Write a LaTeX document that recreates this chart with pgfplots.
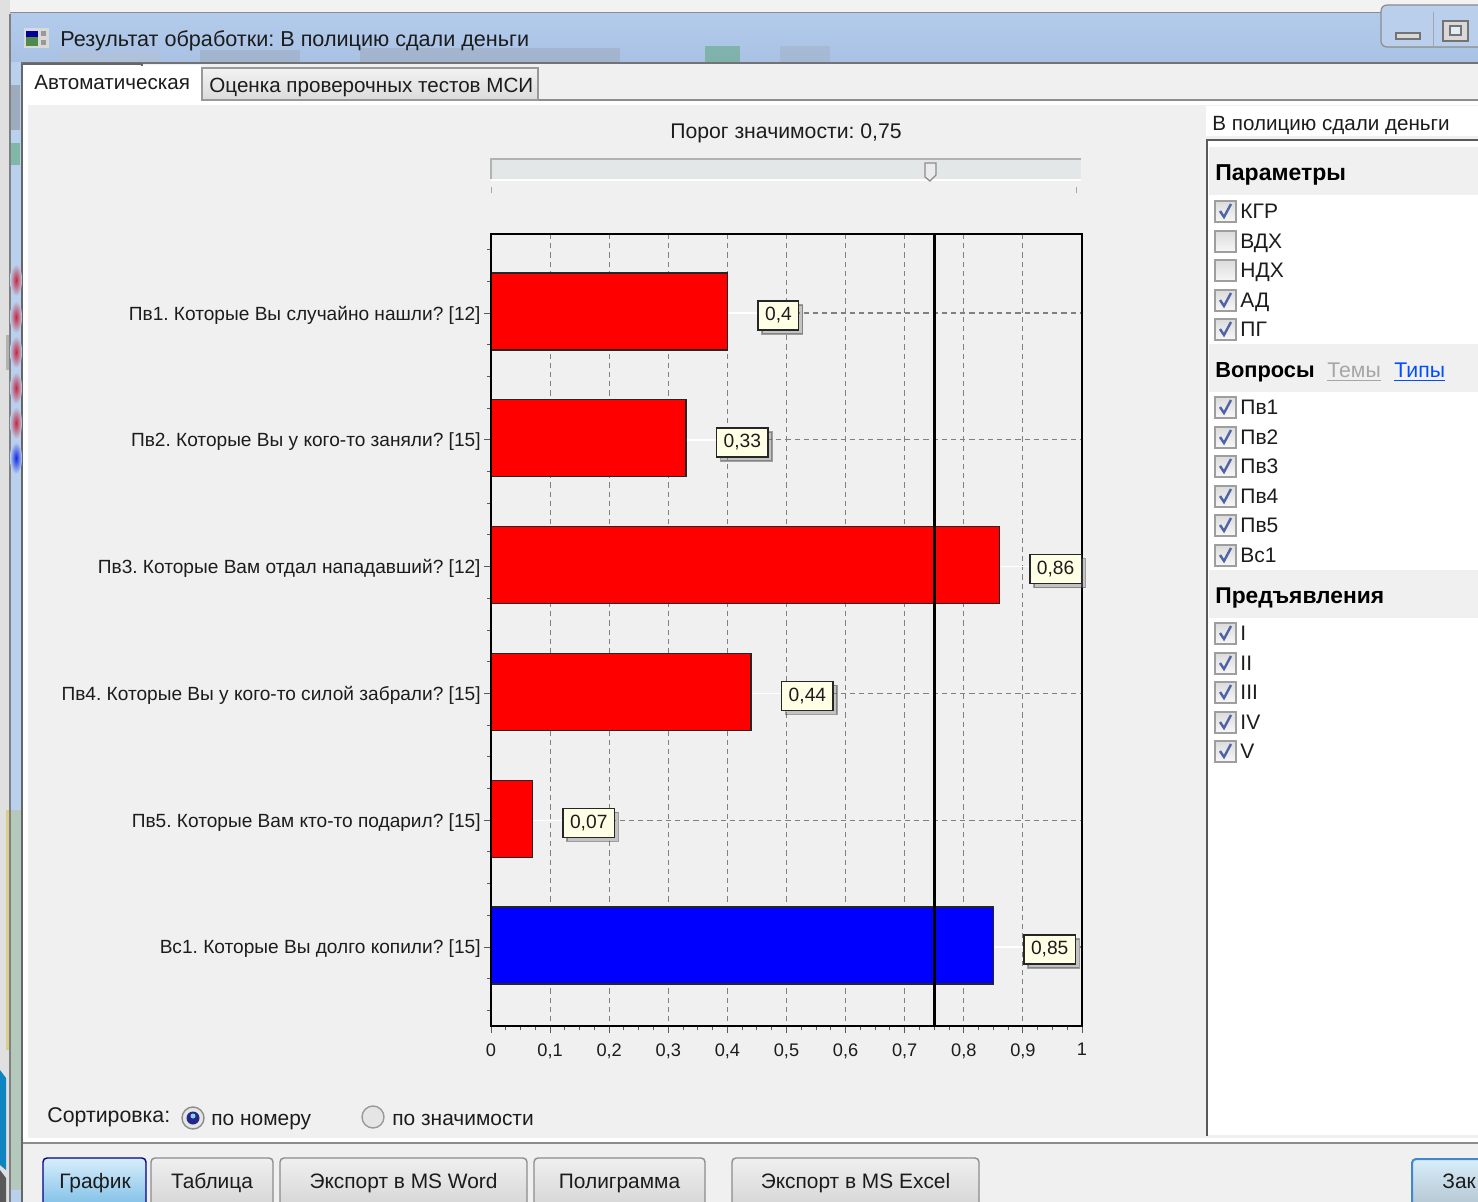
\documentclass[border=0pt]{standalone}
\usepackage{fontspec}
\setmainfont{Liberation Sans}
\usepackage{pgfplots}
\pgfplotsset{compat=1.18}
\usetikzlibrary{shadows}
\definecolor{winbg}{HTML}{F0F0F0}
\definecolor{ink}{HTML}{1C1C1C}
\definecolor{F2F2F2}{HTML}{F2F2F2}
\definecolor{B3CBEB}{HTML}{B3CBEB}
\definecolor{A9C2E4}{HTML}{A9C2E4}
\definecolor{stripb}{HTML}{B9D0EE}
\definecolor{stripg}{HTML}{B5C8BC}
\definecolor{B9CFEC}{HTML}{B9CFEC}
\definecolor{E4E7E7}{HTML}{E4E7E7}
\definecolor{FFFFE6}{HTML}{FFFFE6}
\definecolor{D8EEFB}{HTML}{D8EEFB}
\definecolor{6FB6E3}{HTML}{6FB6E3}
\definecolor{chkc}{HTML}{4F63A5}
\definecolor{khaki}{HTML}{D9CF8A}
\definecolor{desk}{HTML}{0E85C0}
\definecolor{redblob}{HTML}{C4283F}
\definecolor{blueblob}{HTML}{1428E0}
\newcommand\fs[1]{\fontsize{#1}{#1}\selectfont}
\tikzset{uit/.style={inner sep=0pt,text height=.72em,text depth=0pt}}
\newcommand\lab[4]{\node[anchor=west,uit,text=ink,font=\fs{#3}] at (#1,#2) {#4};}
\newcommand\hdr[3]{\node[anchor=west,uit,text=black,font=\fs{#3}\bfseries] at (1215,#1) {#2};}
\newcommand\chkbox[1]{\draw[draw=black!38,line width=0.8pt,top color=black!14,bottom color=black!3] (1215,#1-10) rectangle (1236,#1+11);}
\newcommand\chk[2]{\chkbox{#1}\draw[color=chkc,line width=1.2pt] (1220,#1) -- (1224,#1+6) -- (1231,#1-7);\lab{1240}{#1}{10.5}{#2}}
\newcommand\unchk[2]{\chkbox{#1}\lab{1240}{#1}{10.5}{#2}}
\newcommand\btn[3]{\draw[draw=black!45,line width=0.7pt,rounded corners=2pt,top color=white!94!black,bottom color=black!18] (#1,1158) rectangle (#2,1215);
  \node[text=ink,font=\fs{10.45},uit] at ({(#1+#2)/2},1181) {#3};}
\newcommand\blob[2]{\shade[inner color=#2,outer color=stripb] (16,#1) ellipse (6 and 16);}
\begin{document}
\frenchspacing
\begin{tikzpicture}[x=0.5pt,y=-0.5pt]
\path[use as bounding box] (0,0) rectangle (1478,1202);
\clip (0,0) rectangle (1478,1202);
% desktop behind the window
\fill[F2F2F2] (0,0) rectangle (1478,1202);
\fill[black!12] (0,0) rectangle (10,1202);
\fill[black!30] (6,335) rectangle (9,370);
\fill[khaki] (6,810) rectangle (9,1050);
\fill[desk] (0,1070) -- (6,1078) -- (6,1170) -- (0,1165) -- cycle;
\fill[black!65] (0,1170) -- (6,1178) -- (6,1202) -- (0,1202) -- cycle;
% window frame
\fill[black!45] (10,12) -- (1478,12) -- (1478,16) -- (10,16) -- cycle;
\fill[top color=B3CBEB,bottom color=A9C2E4] (10,14) rectangle (1478,62);
\fill[stripb] (10,62) rectangle (22,1202);
\fill[stripg] (10,810) rectangle (22,1190);
\fill[black!50] (9,14) rectangle (10.5,1202);
\fill[black!60] (21,62) rectangle (23,1202);
\fill[black!55] (21,62) rectangle (1478,64);
\fill[black!60,opacity=.35] (11,85) rectangle (20,130);
\fill[green!50!black,opacity=.3] (11,143) rectangle (20,165);
\blob{280}{redblob}
\blob{317}{redblob}
\blob{352}{redblob}
\blob{388}{redblob}
\blob{423}{redblob}
\blob{458}{blueblob}
\fill[black!25,opacity=.25] (60,52) rectangle (160,62);
\fill[black!45,opacity=.25] (200,50) rectangle (300,62);
\fill[black!45,opacity=.25] (360,48) rectangle (620,62);
\fill[green!50!black,opacity=.25] (705,46) rectangle (740,62);
\fill[black!45,opacity=.18] (780,46) rectangle (830,62);
% min/max buttons
\draw[black!45,line width=.6pt,fill=B9CFEC,rounded corners=3pt] (1381,5) rectangle (1500,47);
\draw[black!35,line width=.5pt] (1433,12) -- (1433,47);
\draw[black!55,fill=white!85!black,line width=.7pt] (1396,33) rectangle (1420,39);
\draw[black!55,fill=white!85!black,line width=.7pt] (1443,21) rectangle (1468,41);
\draw[black!55,fill=white!60!B9CFEC,line width=.7pt] (1450,26) rectangle (1461,35);
% client area
\fill[winbg] (23,64) rectangle (1478,1202);
\fill[white] (23,100) rectangle (1478,105);
\fill[white] (23,100) rectangle (28,1140);
\fill[white] (23,1138) rectangle (1478,1142);
\draw[black!45,line width=.6pt] (201,100) -- (1478,100);
\draw[black!45,line width=.6pt] (23,1143) -- (1478,1143);
% tabs
\fill[white] (23,65) rectangle (201,105);
\draw[black!60,line width=.6pt] (23,64) -- (142,64) -- (142,66);
\draw[black!40,line width=.6pt,top color=white!95!black,bottom color=black!14] (202,100) -- (202,68) -- (538,68) -- (538,100) -- cycle;
\lab{34}{82}{10.3}{Автоматическая}
\lab{209}{85}{10.3}{Оценка проверочных тестов МСИ}
\lab{60}{39}{10.8}{Результат обработки: В полицию сдали деньги}
% window icon
\fill[white!85!black] (24,28) rectangle (49,48);
\fill[green!35!black!70] (26,31) rectangle (38,46);
\fill[blue!60!black] (26,31) rectangle (38,37);
\fill[black!40] (41,31) rectangle (46,36);
\fill[black!40] (41,40) rectangle (46,45);
% threshold title and slider
\node[text=ink,font=\fs{10.6},uit] at (786,131) {Порог значимости: 0,75};
\draw[fill=E4E7E7,draw=none] (491,159) rectangle (1081,179);
\draw[black!30,line width=.6pt] (491,179) -- (491,159) -- (1081,159);
\draw[white,line width=.8pt] (491,180) -- (1081,180);
\draw[black!45,fill=white!92!black,line width=.6pt] (925,163) -- (936,163) -- (936,175) -- (930,181) -- (925,177) -- cycle;
\draw[black!35,line width=.5pt] (491,187) -- (491,193);
\draw[black!35,line width=.5pt] (1076,187) -- (1076,193);
% right panel
\fill[white] (1206,106) rectangle (1478,136);
\lab{1212}{123}{10.3}{В полицию сдали деньги}
\fill[white] (1207,141) rectangle (1478,1135);
\draw[black!65,line width=1pt] (1207,1136) -- (1207,140) -- (1478,140);
\fill[winbg] (1209,147) rectangle (1478,195);
\fill[winbg] (1209,344) rectangle (1478,392);
\fill[winbg] (1209,570) rectangle (1478,618);
\hdr{173}{Параметры}{11.5}
\hdr{370}{Вопросы}{10.9}
\hdr{596}{Предъявления}{11.4}
\node[anchor=west,uit,text=black!35,font=\fs{10.6}] at (1327,370) {\underline{Темы}};
\node[anchor=west,uit,text=blue!70!cyan,font=\fs{10.6}] at (1394,370) {\underline{Типы}};
\chk{211}{КГР}
\unchk{241}{ВДХ}
\unchk{270}{НДХ}
\chk{300}{АД}
\chk{329}{ПГ}
\chk{407}{Пв1}
\chk{437}{Пв2}
\chk{466}{Пв3}
\chk{496}{Пв4}
\chk{525}{Пв5}
\chk{555}{Вс1}
\chk{633}{I}
\chk{663}{II}
\chk{692}{III}
\chk{722}{IV}
\chk{751}{V}
% bottom controls
\lab{47}{1115}{10.65}{Сортировка:}
\draw[black!45,fill=white!90!black,line width=.7pt] (193,1118) circle (11);
\fill[blue!45!black!85] (193,1118) circle (6.5);
\fill[cyan!50] (193,1116) circle (2.5);
\lab{211}{1118}{10.45}{по номеру}
\draw[black!40,fill=white!90!black,line width=.7pt] (373,1117) circle (11);
\lab{392}{1118}{10.45}{по значимости}
\draw[draw=blue!55!black,line width=.7pt,rounded corners=2pt,top color=D8EEFB,bottom color=6FB6E3] (43,1158) rectangle (146,1215);
\node[text=ink,font=\fs{10.45},uit] at (95,1181) {График};
\btn{151}{273}{Таблица}
\btn{280}{527}{Экспорт в MS Word}
\btn{534}{705}{Полиграмма}
\btn{732}{979}{Экспорт в MS Excel}
\draw[draw=cyan!55!blue!80,line width=1pt,rounded corners=2pt,top color=D8EEFB,bottom color=black!20!D8EEFB] (1412,1159) rectangle (1520,1215);
\lab{1442}{1181}{10.45}{Зак}
% chart
\begin{axis}[
  at={(245.5pt,-513pt)},anchor=south west,
  scale only axis,width=295.5pt,height=396pt,
  xmin=0,xmax=1,ymin=-0.623,ymax=5.623,
  y dir=reverse,
  axis background/.style={fill=winbg},
  axis line style={line width=0.6pt,black},
  scaled x ticks=false,
  /pgf/number format/.cd,fixed,use comma,assume math mode=true,precision=2,
  /pgfplots/.cd,
  xtick={0,0.1,0.2,0.3,0.4,0.5,0.6,0.7,0.8,0.9,1},
  minor x tick num=3,
  ytick={0,1,2,3,4,5},
  minor ytick={-0.5,-0.25,0.25,0.5,0.75,1.25,1.5,1.75,2.25,2.5,2.75,3.25,3.5,3.75,4.25,4.5,4.75,5.25,5.5},
  yticklabels={Пв1. Которые Вы случайно нашли? [12],Пв2. Которые Вы у кого-то заняли? [15],Пв3. Которые Вам отдал нападавший? [12],Пв4. Которые Вы у кого-то силой забрали? [15],Пв5. Которые Вам кто-то подарил? [15],Вс1. Которые Вы долго копили? [15]},
  tick align=outside,
  xtick pos=bottom,ytick pos=left,
  major tick length=3.5pt,minor tick length=2pt,
  tick style={black!65,line width=.5pt},
  xmajorgrids,ymajorgrids,
  major grid style={black!50,line width=.55pt,dash pattern=on 2.6pt off 2pt},
  xticklabel style={font=\fs{9.1},text=ink,inner sep=0pt,yshift=-5pt},
  yticklabel style={font=\fs{9.55},text=ink,inner sep=0pt,xshift=-1.5pt,yshift=-1pt},
  nodes near coords style={anchor=west,xshift=15pt,yshift=-1.25pt,fill=FFFFE6,draw=black!85,line width=.7pt,
    font=\fs{9.6},text=ink,inner xsep=3.5pt,inner ysep=0pt,minimum height=14.5pt,
    drop shadow={shadow xshift=2pt,shadow yshift=-2pt,fill=black!50,opacity=.4}},
]
\addplot[white,line width=.7pt,forget plot] coordinates {(0.4,0) (0.45,0)};
\addplot[white,line width=.7pt,forget plot] coordinates {(0.33,1) (0.38,1)};
\addplot[white,line width=.7pt,forget plot] coordinates {(0.86,2) (0.91,2)};
\addplot[white,line width=.7pt,forget plot] coordinates {(0.44,3) (0.49,3)};
\addplot[white,line width=.7pt,forget plot] coordinates {(0.07,4) (0.12,4)};
\addplot[white,line width=.7pt,forget plot] coordinates {(0.85,5) (0.9,5)};
\addplot[xbar,bar shift=-0.012,bar width=0.607,fill=red,draw=black!85,line width=.6pt,nodes near coords] coordinates {(0.4,0) (0.33,1) (0.86,2) (0.44,3) (0.07,4)};
\addplot[xbar,bar shift=-0.012,bar width=0.607,fill=blue,draw=black!85,line width=.6pt,nodes near coords] coordinates {(0.85,5)};
\addplot[black,line width=1.4pt,sharp plot] coordinates {(0.75,-0.623) (0.75,5.623)};
\draw[black,line width=1.4pt] (axis cs:0,-0.623) -- (axis cs:0,5.623) -- (axis cs:1,5.623);
\end{axis}
\end{tikzpicture}
\end{document}
